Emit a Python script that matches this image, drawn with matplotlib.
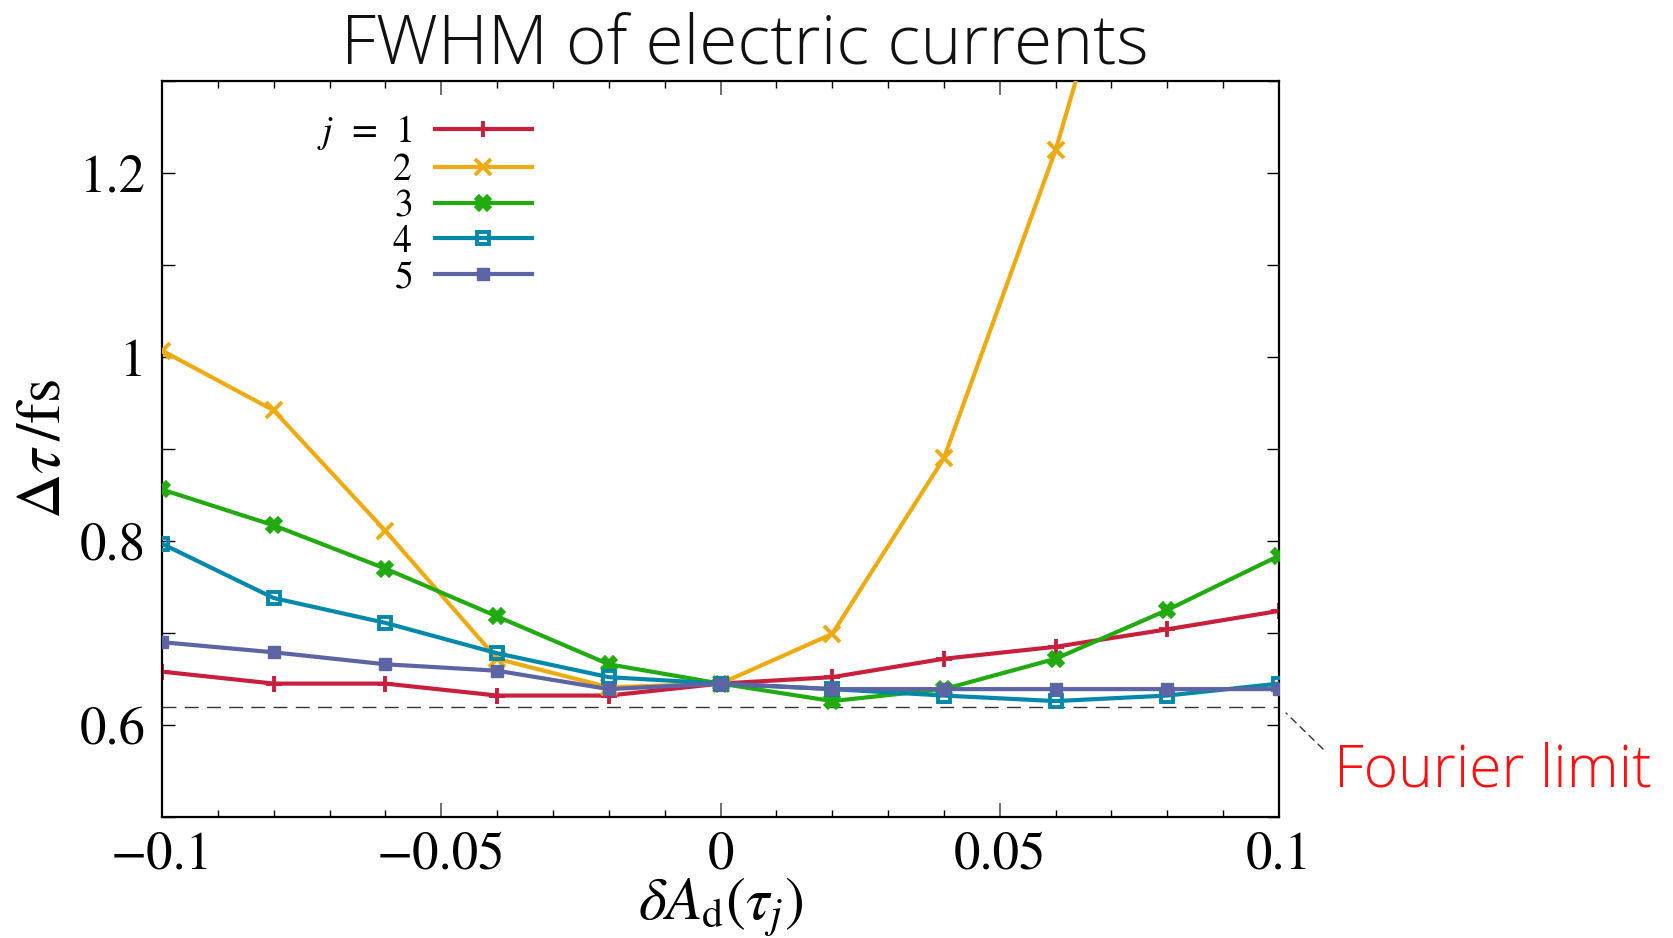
import matplotlib
matplotlib.use("Agg")
import matplotlib.pyplot as plt
from matplotlib.ticker import MultipleLocator, FuncFormatter

plt.rcParams["font.family"] = "serif"
plt.rcParams["font.serif"] = ["STIXGeneral", "Liberation Serif", "DejaVu Serif"]
plt.rcParams["mathtext.fontset"] = "stix"

# desplazamiento de la amplitud en cada instante tau_j
dA = [-0.1, -0.08, -0.06, -0.04, -0.02, 0.0, 0.02, 0.04, 0.06, 0.08, 0.1]

# anchura a media altura (fs) para cada j
fwhm_j1 = [0.658, 0.645, 0.645, 0.632, 0.632, 0.645, 0.652, 0.672, 0.685, 0.704, 0.724]
fwhm_j2 = [1.007, 0.942, 0.811, 0.672, 0.641, 0.645, 0.699, 0.890, 1.225, 1.64, 2.10]
fwhm_j3 = [0.856, 0.817, 0.770, 0.718, 0.666, 0.645, 0.626, 0.639, 0.672, 0.725, 0.784]
fwhm_j4 = [0.797, 0.738, 0.711, 0.678, 0.652, 0.645, 0.639, 0.632, 0.626, 0.632, 0.645]
fwhm_j5 = [0.690, 0.679, 0.666, 0.659, 0.639, 0.645, 0.639, 0.639, 0.639, 0.639, 0.639]

limite_fourier = 0.620

series = [fwhm_j1, fwhm_j2, fwhm_j3, fwhm_j4, fwhm_j5]
etiquetas = ["$j\\ \\,=\\ \\,1$", "$2$", "$3$", "$4$", "$5$"]
colores = ["#C8203C", "#EEAA11", "#22AA11", "#0088AA", "#5C64A4"]
marcadores = ["+", "x", "X", "s", "s"]

fig = plt.figure(figsize=(16.73, 9.38), dpi=100)
ax = fig.add_axes([162 / 1673, 121 / 938, 1117 / 1673, 736 / 938])

ax.axhline(limite_fourier, color="#333333", lw=1.0, dashes=(10, 6), zorder=1)

for i, (y, lab, c, m) in enumerate(zip(series, etiquetas, colores, marcadores)):
    kw = dict(color=c, lw=3.0, marker=m, ms=11, mew=2.8, label=lab, zorder=2 + i)
    if i == 2:
        kw.update(ms=11, mew=1.2)
    if i == 3:
        kw.update(mfc="none", ms=9, mew=2.8)
    if i == 4:
        kw.update(ms=8.5, mew=1)
    ax.plot(dA, y, **kw)

ax.set_xlim(-0.1, 0.1)
ax.set_ylim(0.5, 1.3)

ax.xaxis.set_major_locator(MultipleLocator(0.05))
ax.xaxis.set_minor_locator(MultipleLocator(0.01))
ax.yaxis.set_major_locator(MultipleLocator(0.2))
ax.yaxis.set_minor_locator(MultipleLocator(0.1))
fmt = FuncFormatter(lambda v, p: f"{v:g}".replace("-", "\u2212") if abs(v) > 1e-9 else "0")
ax.xaxis.set_major_formatter(fmt)
ax.yaxis.set_major_formatter(fmt)

ax.tick_params(which="both", direction="in", top=True, right=True, labelsize=38)
ax.tick_params(axis="x", which="major", length=10, width=1.2, color="#555555", pad=10)
ax.tick_params(axis="x", which="minor", length=5, width=1.0)
ax.tick_params(axis="y", which="both", length=9, width=1.0, pad=12)
for s in ax.spines.values():
    s.set_linewidth(1.6)

ax.set_xlabel("$\\delta A_{\\mathrm{d}}(\\tau_j)$", fontsize=43, labelpad=-3)
ax.set_ylabel("$\\Delta\\tau\\,/\\mathrm{fs}$", fontsize=45, labelpad=4)

leg = ax.legend(loc="upper left", bbox_to_anchor=(0.125, 0.977), markerfirst=False,
                frameon=False, fontsize=27, handlelength=2.6, handletextpad=0.6,
                labelspacing=0.03, borderaxespad=0)

fig.text(745 / 1673, 1 - 45 / 938, "FWHM of electric currents", family=["Open Sans", "DejaVu Sans"],
         fontweight="light", fontsize=50, ha="center", va="center", color="#111111")

# guía discontinua hacia la etiqueta del límite de Fourier
ax.annotate("", xy=(1286, 938 - 713), xycoords="figure pixels",
            xytext=(1323, 938 - 749), textcoords="figure pixels",
            arrowprops=dict(arrowstyle="-", linestyle=(0, (5, 4)), color="#333333", lw=1.0,
                            shrinkA=0, shrinkB=0))
fig.text(1334 / 1673, 1 - 786 / 938, "Fourier limit", family=["Open Sans", "DejaVu Sans"],
         fontweight="light", fontsize=42.5, color="#FF1010", ha="left", va="baseline")

fig.savefig("out.png", dpi=100)
